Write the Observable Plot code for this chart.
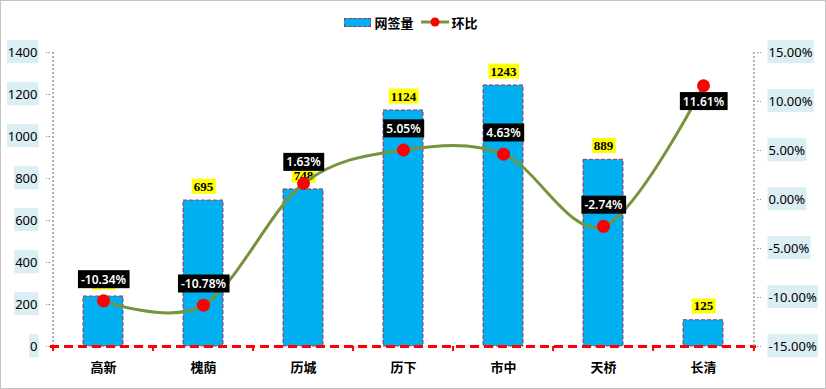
<!DOCTYPE html>
<html>
<head>
<meta charset="utf-8">
<script src="https://cdn.jsdelivr.net/npm/d3@7"></script>
<script src="https://cdn.jsdelivr.net/npm/@observablehq/plot@0.6"></script>
<style>
  html, body { margin: 0; padding: 0; background: #fff; }
  #wrap { position: relative; width: 826px; height: 389px; overflow: hidden; background: #fff; font-family: "Noto Sans CJK SC", "Noto Sans", sans-serif; }
  #border { position: absolute; left: 0; top: 0; width: 824px; height: 387px; border: 1px solid #c4c4c4; pointer-events: none; z-index: 5; }
  #legend { position: absolute; left: 0; top: 13px; width: 826px; height: 18px; display: flex; justify-content: center; align-items: center; font-weight: bold; font-size: 13px; color: #000; padding-left: 2px; box-sizing: border-box; }
  #legend .sw-bar { width: 25px; height: 7px; background: #00b0f0; border: 1px dashed #b0304a; margin-right: 3px; }
  #legend .item { display: flex; align-items: center; margin: 0 6px 0 0; }
  .plot { position: absolute; left: 0; top: 40px; }
  .plot text { fill: #000; }
  .plot g[aria-label="y-axis tick"] { stroke: #8c8c8c; stroke-dasharray: 1.5,1.5; }
</style>
</head>
<body>
<div id="wrap">
  <div id="legend">
    <div class="item"><div class="sw-bar"></div><span>网签量</span></div>
    <div class="item"><svg width="30" height="10" style="margin-right:2px"><line x1="1" y1="5" x2="29" y2="5" stroke="#77933c" stroke-width="3"/><circle cx="15" cy="5" r="4.5" fill="#ff0000"/></svg><span>环比</span></div>
  </div>
  <div id="p1" class="plot"></div>
  <div id="p2" class="plot"></div>
  <div id="border"></div>
</div>
<script>
const categories = ["高新", "槐荫", "历城", "历下", "市中", "天桥", "长清"];
const volumes = [238, 695, 748, 1124, 1243, 889, 125];
const momPct = [-10.34, -10.78, 1.63, 5.05, 4.63, -2.74, 11.61];
const leftTicks = [0, 200, 400, 600, 800, 1000, 1200, 1400];
const rightTicks = [-15, -10, -5, 0, 5, 10, 15];

const data = categories.map((c, i) => ({cat: c, vol: volumes[i], pct: momPct[i]}));

const W = 826, H = 349, ML = 50, MR = 70, MT = 12, MB = 43;
const step = (W - ML - MR) / categories.length;
const xOpts = {domain: categories, paddingInner: 0.6, paddingOuter: 0.3, label: null};
const maxPct = d3.max(momPct);

const plot1 = Plot.plot({
  width: W, height: H, marginLeft: ML, marginRight: MR, marginTop: MT, marginBottom: MB,
  x: xOpts,
  y: {domain: [0, 1400], label: null},
  style: {background: "transparent", fontFamily: "'Noto Sans', sans-serif", fontSize: "13px", overflow: "visible"},
  marks: [
    Plot.ruleX(categories.slice(0, 1), {x: d => d, dx: -step / 2, y1: 0, y2: 1400, stroke: "#9a9a9a", strokeWidth: 1.5, strokeDasharray: "2,2"}),
    Plot.barY(data, {x: "cat", y: "vol", fill: "#00b0f0", stroke: "#b0304a", strokeWidth: 1, strokeDasharray: "4,2"}),
    Plot.ruleX(categories, {x: d => d, dx: -step / 2, y1: 0, y2: -24, stroke: "#ff0000", strokeWidth: 2}),
    Plot.ruleX(categories.slice(-1), {x: d => d, dx: step / 2, y1: 0, y2: -24, stroke: "#ff0000", strokeWidth: 2}),
    Plot.ruleY([0], {stroke: "#ff0000", strokeWidth: 3, strokeDasharray: "9,5"}),
    Plot.axisY(leftTicks, {label: null, tickSize: 4, tickPadding: 9, fontSize: 13, tickFormat: d => String(d)}),
    Plot.axisX({label: null, tickSize: 0, tickPadding: 16, fontSize: 13, fontWeight: "bold", fontFamily: "'Noto Sans CJK SC', sans-serif"}),
    Plot.text(data, {x: "cat", y: "vol", text: d => String(d.vol), dy: -14, fontWeight: "bold", fontSize: 13, fontFamily: "'Liberation Serif', serif"})
  ]
});
document.getElementById("p1").append(plot1);

const plot2 = Plot.plot({
  width: W, height: H, marginLeft: ML, marginRight: MR, marginTop: MT, marginBottom: MB,
  x: {...xOpts, axis: null},
  y: {domain: [-15, 15], label: null},
  style: {background: "transparent", fontFamily: "'Noto Sans', sans-serif", fontSize: "13px", overflow: "visible"},
  marks: [
    Plot.ruleX(categories.slice(-1), {x: d => d, dx: step / 2, y1: -15, y2: 15, stroke: "#9a9a9a", strokeWidth: 1.5, strokeDasharray: "2,2"}),
    Plot.axisY(rightTicks, {anchor: "right", label: null, tickSize: 4, tickPadding: 8, fontSize: 13, tickFormat: d => d.toFixed(2) + "%"}),
    Plot.line(data, {x: "cat", y: "pct", curve: "cardinal", stroke: "#77933c", strokeWidth: 3}),
    Plot.dot(data, {x: "cat", y: "pct", r: 6.5, fill: "#ff0000", stroke: "none"}),
    Plot.text(data.filter(d => d.pct !== maxPct), {x: "cat", y: "pct", text: d => d.pct.toFixed(2) + "%", dy: -21, fontSize: 12, fontWeight: 600, fill: "#fff"}),
    Plot.text(data.filter(d => d.pct === maxPct), {x: "cat", y: "pct", text: d => d.pct.toFixed(2) + "%", dy: 16, fontSize: 12, fontWeight: 600, fill: "#fff"})
  ]
});
document.getElementById("p2").append(plot2);

const NS = "http://www.w3.org/2000/svg";
function addBoxes(groups, fill, px, py) {
  for (const g of groups) {
    for (const t of g.querySelectorAll("text")) {
      const b = t.getBBox();
      const r = document.createElementNS(NS, "rect");
      r.setAttribute("x", b.x - px);
      r.setAttribute("y", b.y - py);
      r.setAttribute("width", b.width + 2 * px);
      r.setAttribute("height", b.height + 2 * py);
      r.setAttribute("fill", fill);
      r.setAttribute("stroke", "none");
      const tr = t.getAttribute("transform");
      if (tr) r.setAttribute("transform", tr);
      t.parentNode.insertBefore(r, t);
    }
  }
}
addBoxes(plot1.querySelectorAll('g[aria-label="y-axis tick label"]'), "#daeef3", 1, 2.5);
addBoxes(plot2.querySelectorAll('g[aria-label="y-axis tick label"]'), "#daeef3", 1, 2.5);
const t1 = plot1.querySelectorAll('g[aria-label="text"]');
addBoxes([t1[t1.length - 1]], "#ffff00", 2, 0);
addBoxes(plot2.querySelectorAll('g[aria-label="text"]'), "#000000", 3, 0.5);
plot2.querySelectorAll('g[aria-label="text"] text').forEach(t => t.style.fill = "#fff");
</script>
</body>
</html>
